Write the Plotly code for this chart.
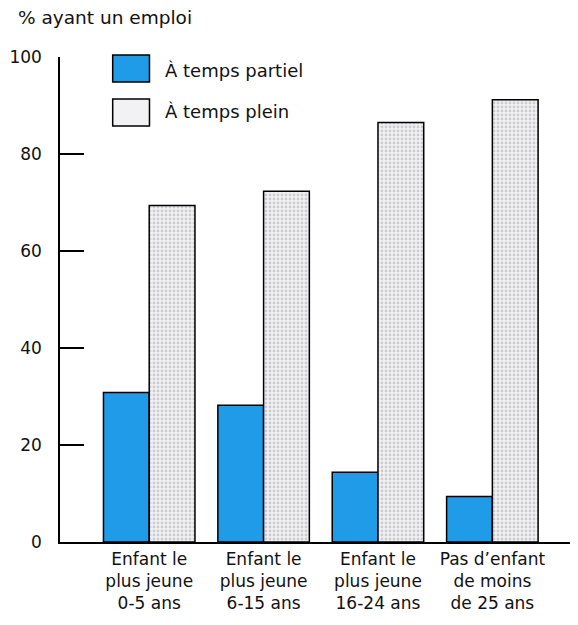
import plotly.graph_objects as go

categories = ["Enfant le<br>plus jeune<br>0-5 ans", "Enfant le<br>plus jeune<br>6-15 ans",
              "Enfant le<br>plus jeune<br>16-24 ans", "Pas d’enfant<br>de moins<br>de 25 ans"]
partiel = [30.8, 28.2, 14.4, 9.4]
plein = [69.4, 72.3, 86.5, 91.2]
series_names = ["À temps partiel", "À temps plein"]
y_ticks = [0, 20, 40, 60, 80, 100]

FONT = "DejaVu Sans, Verdana, sans-serif"
TXT = "#111"
BLUE = "#1f9be8"
GREY_BG = "#f2f2f4"

# page plot-area geometry (page px): x 57..577, y 57..542
PX0, PX1, PY0, PY1 = 57, 577, 57, 542
def px(x):
    return (x - PX0) / (PX1 - PX0)
def py(y):
    return 1 - (y - PY0) / (PY1 - PY0)

x = list(range(len(categories)))
fig = go.Figure()
fig.add_trace(go.Bar(x=x, y=partiel, name=series_names[0],
                     marker=dict(color=BLUE, line=dict(color="black", width=1.5)),
                     showlegend=False))
fig.add_trace(go.Bar(x=x, y=plein, name=series_names[1],
                     marker=dict(color=GREY_BG, line=dict(color="black", width=1.5),
                                 pattern=dict(shape=".", fgcolor="#a4a4ac", bgcolor=GREY_BG,
                                              size=4, solidity=0.4)),
                     showlegend=False))

fig.update_layout(
    width=570, height=617,
    margin=dict(l=49, r=1, t=49, b=83),
    paper_bgcolor="white", plot_bgcolor="white",
    barmode="group", bargap=0.2, bargroupgap=0,
    font=dict(family=FONT, size=17, color=TXT),
    xaxis=dict(range=[-0.78, 3.74], tickmode="array", tickvals=x, ticktext=categories,
               showline=True, linecolor="black", linewidth=1.5, ticks="",
               showgrid=False, zeroline=False, ticklabelstandoff=1,
               tickfont=dict(family=FONT, size=17, color=TXT)),
    yaxis=dict(range=[0, 100], tickvals=y_ticks, showline=True, linecolor="black",
               linewidth=1.5, ticks="inside", ticklen=24, tickwidth=1.5, tickcolor="black",
               showgrid=False, zeroline=False, ticklabelstandoff=13,
               tickfont=dict(family=FONT, size=17, color=TXT)),
)

fig.add_annotation(text="% ayant un emploi", xref="paper", yref="paper",
                   x=px(13), y=py(17), xanchor="left", yanchor="middle",
                   showarrow=False, font=dict(family=FONT, size=18.5, color=TXT))

# custom legend with larger swatches
legend_rows = [((55, 82), 70, BLUE), ((99, 126), 111, GREY_BG)]
for ((sy0, sy1), ty, col), name in zip(legend_rows, series_names):
    fig.add_shape(type="rect", xref="paper", yref="paper",
                  x0=px(110), x1=px(147), y0=py(sy1), y1=py(sy0),
                  fillcolor=col, line=dict(color="black", width=1.5))
    fig.add_annotation(text=name, xref="paper", yref="paper",
                       x=px(161), y=py(ty), xanchor="left",
                       yanchor="middle", showarrow=False,
                       font=dict(family=FONT, size=18, color=TXT))

fig.write_html("out.html")
